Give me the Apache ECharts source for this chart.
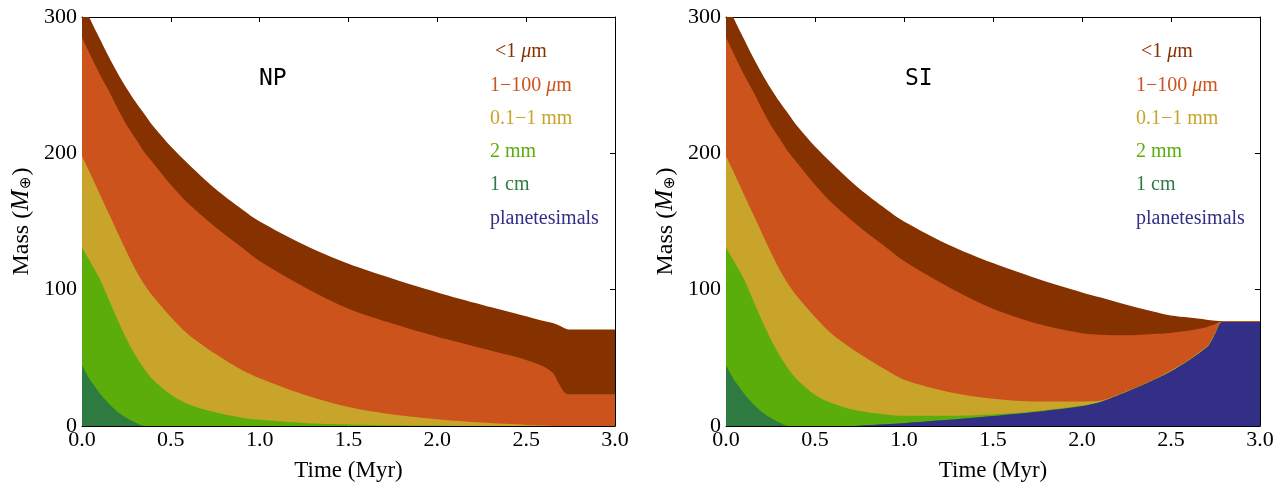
<!DOCTYPE html>
<html>
<head>
<meta charset="utf-8">
<script src="https://cdn.jsdelivr.net/npm/echarts@6/dist/echarts.min.js"></script>
<style>
html,body{margin:0;padding:0;background:#fff;}
#chart{width:1279px;height:487px;}
</style>
</head>
<body>
<div id="chart"></div>
<script>
// ---------- data (cumulative mass boundaries, M_earth) ----------
const xTicks = [0.0, 0.5, 1.0, 1.5, 2.0, 2.5, 3.0];
const yTicks = [0, 100, 200, 300];
const speciesNames = ['<1 μm', '1−100 μm', '0.1−1 mm', '2 mm', '1 cm', 'planetesimals'];
const speciesColors = ['#863200', '#cc541c', '#c8a52a', '#5bad0a', '#2e7b42', '#332f87'];

// NP panel
const npTime   = [0, 0.04, 0.1, 0.15, 0.2, 0.25, 0.3, 0.35, 0.4, 0.5, 0.6, 0.75, 0.9, 1.0, 1.25, 1.5, 1.75, 2.0, 2.25, 2.5, 2.6, 2.65, 2.68, 2.71, 2.73, 2.75, 3.0];
const npSub1um = [312, 300, 284, 271, 259, 248, 238, 229, 220, 205, 192, 174, 159, 150, 133, 119, 108, 98, 89, 80.5, 77, 75.5, 74, 72, 71, 70.7, 70.7];
const np1to100 = [285, 274, 258, 246, 233, 221, 211, 201, 193, 177, 163, 146, 131, 121, 102, 86, 75, 65.5, 57, 48.5, 43.5, 39, 32, 25.5, 23.5, 23.2, 23.2];
const npMm01   = [198, 187, 170, 156, 142, 128, 115, 104, 95, 80, 67, 53, 41, 35, 23, 14, 8.5, 5, 2.5, 0.8, 0.3, 0, 0, 0, 0, 0, 0];
const np2mm    = [131, 122, 108, 93, 78, 64, 52, 42, 34, 23, 16, 10, 6, 4.5, 2.2, 1.1, 0.5, 0.2, 0, 0, 0, 0, 0, 0, 0, 0, 0];
const np1cm    = [44.5, 35, 24, 16.5, 10.5, 6, 2.5, 0, 0, 0, 0, 0, 0, 0, 0, 0, 0, 0, 0, 0, 0, 0, 0, 0, 0, 0, 0];

// SI panel
const siTime   = [0, 0.04, 0.1, 0.15, 0.2, 0.25, 0.3, 0.35, 0.4, 0.5, 0.6, 0.75, 0.9, 1.0, 1.25, 1.5, 1.75, 2.0, 2.1, 2.25, 2.4, 2.5, 2.6, 2.7, 2.72, 2.75, 2.78, 2.8, 3.0];
const siSub1um = [312, 300, 284, 271, 259, 248, 238, 229, 220, 205, 192, 174, 159, 150, 133, 119.5, 108, 98, 94.5, 89, 84, 81, 79.5, 78, 77.6, 77.2, 77, 77, 77];
const si1to100 = [285, 274, 258, 246, 233, 221, 211, 201, 193, 177, 163, 146, 131, 121, 102, 86, 75, 68, 67, 66.5, 67.5, 68.3, 70, 72.5, 73.5, 74.8, 76.6, 76.6, 76.6];
const siMm01   = [198, 187, 170, 156, 142, 128, 115, 104, 95, 80, 67, 53, 41, 34, 25, 20, 18, 18, 18.5, 25.5, 34, 40.7, 48.6, 58.3, 61.3, 68.7, 76.4, 76.5, 76.5];
const si2mm    = [131, 122, 108, 93, 78, 64, 52, 42, 34, 23, 16.5, 11, 8.5, 7.5, 7.5, 8.5, 11, 15, 17.6, 25, 33.5, 40, 48, 57.5, 60.5, 68, 76, 76.3, 76.3];
const si1cm    = [44.5, 35, 24, 16.5, 10.5, 6, 2.5, 0, 0, 0, 0, 0.2, 1.2, 2, 4.5, 7.3, 10.5, 14.5, 17.5, 25, 33.5, 40, 48, 57.5, 60.5, 68, 76, 76.3, 76.3];
const siPlan   = [0, 0, 0, 0, 0, 0, 0, 0, 0, 0, 0, 0.2, 1.2, 2, 4.5, 7.3, 10.5, 14.5, 17.5, 25, 33.5, 40, 48, 57.5, 60.5, 68, 76, 76.3, 76.3];

// ---------- chart ----------
const SERIF = '"Liberation Serif", "DejaVu Serif", serif';
function pairs(t, v) { return t.map((x, i) => [x, v[i]]); }

function areaSeries(name, idx, t, v, axisIdx) {
  return {
    name: name, type: 'line', xAxisIndex: axisIdx, yAxisIndex: axisIdx,
    data: pairs(t, v), showSymbol: false, symbol: 'none', silent: true,
    smooth: 0.3,
    lineStyle: { width: 0, color: speciesColors[idx] },
    itemStyle: { color: speciesColors[idx] },
    areaStyle: { color: speciesColors[idx], opacity: 1, origin: 'start' },
    clip: true, animation: false
  };
}

const tickStyle = { show: true, inside: true, length: 5, lineStyle: { color: '#000', width: 1 } };
const lineStyle = { show: true, onZero: false, lineStyle: { color: '#000', width: 1 } };

function xAxis(gi, pos, main) {
  return {
    type: 'value', gridIndex: gi, position: pos, min: xTicks[0], max: xTicks[xTicks.length - 1], interval: 0.5,
    axisLine: lineStyle, axisTick: tickStyle, splitLine: { show: false },
    axisLabel: { show: main, margin: 3, color: '#000', fontFamily: SERIF, fontSize: 22,
      formatter: v => v.toFixed(1), showMinLabel: true, showMaxLabel: true },
    name: main ? 'Time (Myr)' : '', nameLocation: 'middle', nameGap: 33,
    nameTextStyle: { color: '#000', fontFamily: SERIF, fontSize: 23 }
  };
}
function yAxis(gi, pos, main) {
  return {
    type: 'value', gridIndex: gi, position: pos, min: yTicks[0], max: yTicks[yTicks.length - 1], interval: 100,
    axisLine: lineStyle, axisTick: tickStyle, splitLine: { show: false },
    axisLabel: { show: main, margin: 5, color: '#000', fontFamily: SERIF, fontSize: 22,
      showMinLabel: true, showMaxLabel: true },
    name: main ? 'Mass ({it|M}{sub|⊕})' : '', nameLocation: 'middle', nameGap: 48, nameRotate: 90,
    nameTextStyle: { color: '#000', fontFamily: SERIF, fontSize: 24,
      rich: {
        it: { fontFamily: SERIF, fontStyle: 'italic', fontSize: 25, color: '#000' },
        sub: { fontFamily: '"DejaVu Sans", sans-serif', fontSize: 15, color: '#000', verticalAlign: 'bottom', padding: [6, 1, 0, 1] }
      } }
  };
}

function legend(left) {
  return {
    left: left, top: 42, orient: 'vertical', padding: 0,
    icon: 'none', itemWidth: 0, itemHeight: 20, itemGap: 13.3,
    selectedMode: false,
    data: speciesNames.map((n, i) => ({ name: n, textStyle: { color: speciesColors[i] } })),
    formatter: n => (n === '<1 μm' ? ' ' : '') + n.replace('μ', '{i|μ}'),
    textStyle: { fontFamily: SERIF, fontSize: 20, lineHeight: 20,
      rich: { i: { fontFamily: SERIF, fontStyle: 'italic', fontSize: 20 } } }
  };
}

const npSeries = [npSub1um, np1to100, npMm01, np2mm, np1cm];
const siSeries = [siSub1um, si1to100, siMm01, si2mm, si1cm, siPlan];

const series = [];
npSeries.forEach((v, i) => series.push(areaSeries(speciesNames[i], i, npTime, v, 0)));
siSeries.forEach((v, i) => series.push(areaSeries(speciesNames[i], i, siTime, v, 2)));

const option = {
  backgroundColor: '#fff',
  animation: false,
  grid: [
    { left: 82, top: 17, width: 533, height: 413 },
    { left: 726, top: 17, width: 534, height: 413 }
  ],
  xAxis: [xAxis(0, 'bottom', true), xAxis(0, 'top', false), xAxis(1, 'bottom', true), xAxis(1, 'top', false)],
  yAxis: [yAxis(0, 'left', true), yAxis(0, 'right', false), yAxis(1, 'left', true), yAxis(1, 'right', false)],
  legend: [legend(485), legend(1131)],
  graphic: [
    { type: 'text', left: 259, top: 68, style: { text: 'NP', font: '23px "DejaVu Sans Mono", monospace', fill: '#000' } },
    { type: 'text', left: 905, top: 68, style: { text: 'SI', font: '23px "DejaVu Sans Mono", monospace', fill: '#000' } }
  ],
  series: series
};

const chart = echarts.init(document.getElementById('chart'), null, { renderer: 'canvas' });
chart.setOption(option);
</script>
</body>
</html>
